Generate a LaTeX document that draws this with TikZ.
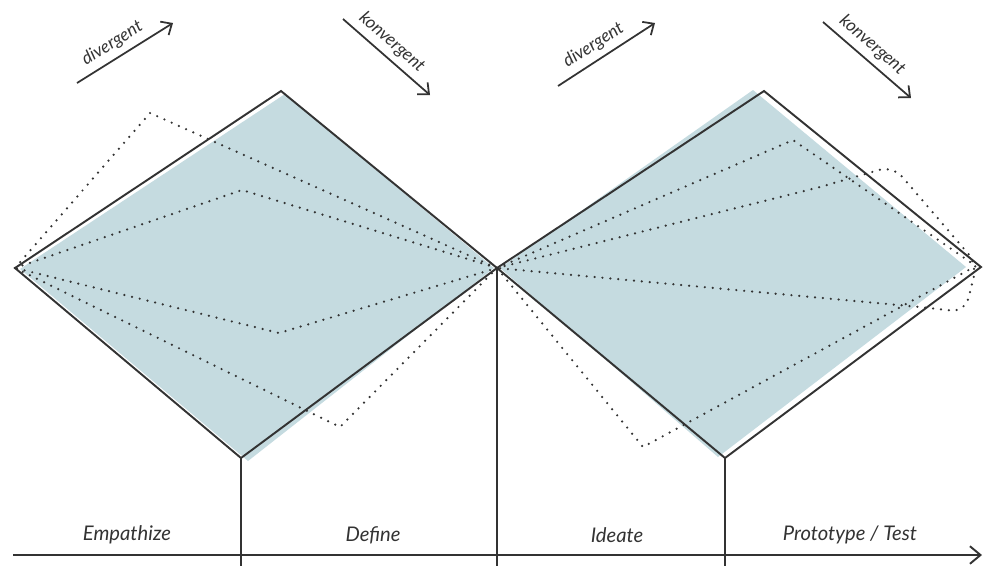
\documentclass[tikz,border=0pt]{standalone}
\usepackage{fontspec}
\setmainfont{Lato}
\definecolor{paleblue}{HTML}{C5DBE0}
\definecolor{ink}{HTML}{333333}
\usepackage{tikz}
\usetikzlibrary{arrows.meta, calc}
\newcommand{\spread}[4]
{
	\draw[dotline] (#1) -- (#2) -- (#3) -- (#4) -- cycle
}

\begin{document}
\begin{tikzpicture}[x=0.02cm, y=-0.02cm,
	edge/.style={draw=ink, line width=1.1pt, line join=miter},
	dotline/.style={draw=ink, line width=1.4pt, line cap=round, dash pattern=on 0pt off 4.5pt},
	flow/.style={draw=ink, line width=1pt, -{Straight Barb[length=5pt, width=9pt]}},
	flowlabel/.style={font=\itshape\fontsize{10}{12}\selectfont, text=ink, sloped, above, pos=0.45},
	phase/.style={font=\itshape\fontsize{11.5}{14}\selectfont, text=ink}]

	\useasboundingbox (0,0) rectangle (983,566);

	% corners of the two diamonds
	\coordinate (lw) at (15,268);
	\coordinate (ln) at (281,91);
	\coordinate (mid) at (497,268);
	\coordinate (ls) at (241,458);
	\coordinate (rn) at (764,91);
	\coordinate (re) at (981,267);
	\coordinate (rs) at (725,458);
	\coordinate (bot) at (0,566);

	% shaded areas
	\fill[paleblue] (20,269) -- (285,94) -- (494,268) -- (248,461) -- cycle;
	\fill[paleblue] (500,268) -- (753,90) -- (966,267) -- (718,457) -- cycle;

	% dotted paths, left
	\coordinate (l1) at (150,113);
	\coordinate (l2) at (340,427);
	\coordinate (l3) at (242,190);
	\coordinate (l4) at (279,333);
	\spread{lw}{l1}{mid}{l2};
	\spread{lw}{l3}{mid}{l4};

	% dotted paths, right
	\coordinate (r1) at (793,140);
	\coordinate (r2) at (976,266);
	\coordinate (r3) at (643,447);
	\spread{mid}{r1}{r2}{r3};
	\draw[dotline] (mid) -- (820,187) [rounded corners=8pt] -- (893,166) -- (977,264) -- (965,312) [sharp corners] -- (920,307) -- (mid);

	% diamonds and stems
	\draw[edge] (lw) -- (ln) -- (mid) -- (ls) -- cycle;
	\draw[edge] (mid) -- (rn) -- (re) -- (rs) -- cycle;
	\draw[edge] (ls) -- (ls |- bot);
	\draw[edge] (mid) -- (mid |- bot);
	\draw[edge] (rs) -- (rs |- bot);

	% time axis
	\coordinate (ax0) at (13,555);
	\coordinate (ax1) at (982,555);
	\draw[flow, line width=1.1pt, -{Straight Barb[length=6pt, width=10pt]}] (ax0) -- (ax1);

	% direction arrows
	\coordinate (d1a) at (77,83);
	\coordinate (d1b) at (173,23);
	\coordinate (k1a) at (343,19);
	\coordinate (k1b) at (430,95);
	\coordinate (d2a) at (558,86);
	\coordinate (d2b) at (655,23);
	\coordinate (k2a) at (823,22);
	\coordinate (k2b) at (911,98);
	\draw[flow] (d1a) -- node[flowlabel] {divergent} (d1b);
	\draw[flow] (k1a) -- node[flowlabel] {konvergent} (k1b);
	\draw[flow] (d2a) -- node[flowlabel] {divergent} (d2b);
	\draw[flow] (k2a) -- node[flowlabel] {konvergent} (k2b);

	% phases
	\node[phase] (empathize) at (127,535) {Empathize};
	\node[phase] (define) at (373,535) {Define};
	\node[phase] (ideate) at (617,535) {Ideate};
	\node[phase] (prototype) at (850,535) {Prototype / Test};
\end{tikzpicture}
\end{document}
